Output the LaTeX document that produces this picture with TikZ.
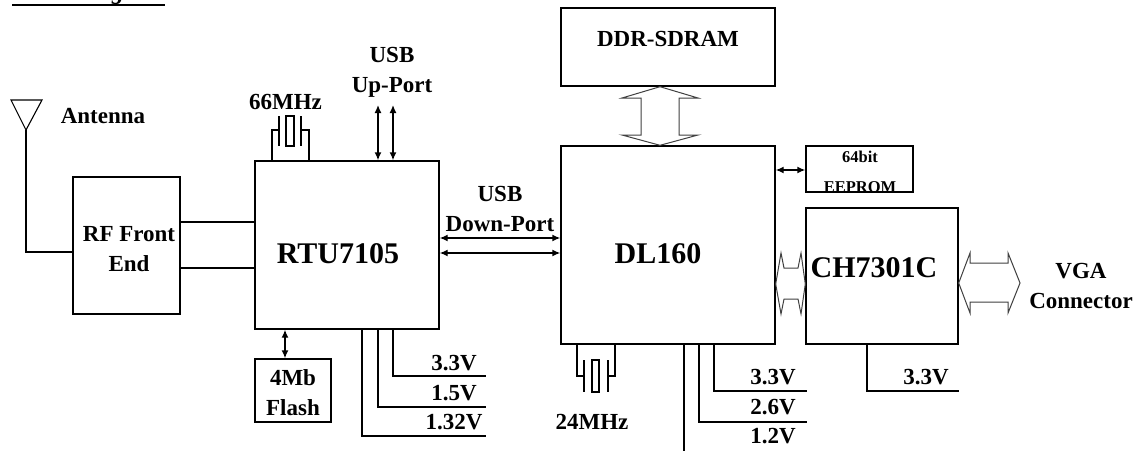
\documentclass[tikz,border=0pt]{standalone}
\usepackage{fontspec}
\setmainfont{Liberation Serif}
\usetikzlibrary{arrows.meta}
\begin{document}
\begin{tikzpicture}[x=1pt,y=-1pt,line width=1.4pt,
  box/.style={draw,inner sep=0pt},
  lbl/.style={font=\bfseries\fontsize{23}{30}\selectfont,inner sep=0pt,align=center},
  biglbl/.style={font=\bfseries\fontsize{30}{30}\selectfont,inner sep=0pt},
  smalllbl/.style={font=\bfseries\fontsize{16.5}{30}\selectfont,inner sep=0pt,align=center},
  dar/.style={{Latex[length=8pt,width=7pt]}-{Latex[length=8pt,width=7pt]},line width=1.4pt},
  hollow/.style={draw=black!75,line width=1pt,fill=white}]
\useasboundingbox (0,0) rectangle (1140,450);

% title (clipped at top, as in the reference)
\node[font=\bfseries\itshape\fontsize{24}{24}\selectfont,inner sep=0pt,anchor=base west] (title) at (12,-1) {Block Diagram};
\draw[line width=1.4pt] (title.base west |- 0,5) -- (title.base east |- 0,5);

% boxes
\node[box,minimum width=107pt,minimum height=137pt] (rf) at (126.5,245.5) {};
\node[box,minimum width=184pt,minimum height=168pt] (rtu) at (347,245) {};
\node[box,minimum width=76pt,minimum height=63pt] (flash) at (293,390.5) {};
\node[box,minimum width=214pt,minimum height=198pt] (dl) at (668,245) {};
\node[box,minimum width=214pt,minimum height=78pt] (ddr) at (668,47) {};
\node[box,minimum width=107pt,minimum height=46pt] (eeprom) at (859.5,169) {};
\node[box,minimum width=152pt,minimum height=136pt] (ch) at (882,276) {};

% box texts
\node[lbl] (rftxt) at (129,249) {RF Front\\End};
\node[biglbl] (rtutxt) at (338,254) {RTU7105};
\node[lbl] (flashtxt) at (293,392.5) {4Mb\\Flash};
\node[lbl] (ddrtxt) at (668,39) {DDR-SDRAM};
\node[biglbl] (dltxt) at (658,254) {DL160};
\node[smalllbl] (eetxt1) at (860,157) {64bit};
\node[smalllbl] (eetxt2) at (860,187) {EEPROM};
\node[biglbl] (chtxt) at (874,268) {CH7301C};

% free labels
\node[lbl] (anttxt) at (103,116) {Antenna};
\node[lbl] (osc1txt) at (285.5,102) {66MHz};
\node[lbl] (usbup) at (392,72) {USB\\Up-Port};
\node[lbl] (usbdown) at (500,208.5) {USB\\Down-Port};
\node[lbl] (vga) at (1081,285.5) {VGA\\Connector};
\node[lbl] (osc2txt) at (592,422) {24MHz};

% antenna
\coordinate (antapex) at (26,130);
\draw[line width=1.1pt] (11,100) -- (42,100) -- (antapex) -- cycle;
\draw (antapex) |- (rf.west |- 0,252);

% RF to RTU
\draw (rf.east |- 0,222) -- (rtu.west |- 0,222);
\draw (rf.east |- 0,268) -- (rtu.west |- 0,268);

% 66MHz crystal
\draw (rtu.north -| 272,0) |- (279,130);
\draw (279,116) -- (279,146);
\draw (286,116) rectangle (294,146);
\draw (301,116) -- (301,146);
\draw (rtu.north -| 309,0) |- (301,130);

% USB up-port
\coordinate (up1) at (378,105);
\coordinate (up2) at (393,105);
\draw[dar] (rtu.north -| up1) -- (up1);
\draw[dar] (rtu.north -| up2) -- (up2);

% flash
\draw[dar] (rtu.south -| 285,0) -- (flash.north -| 285,0);

% RTU power
\coordinate (pr1) at (486,376);
\coordinate (pr2) at (486,407);
\coordinate (pr3) at (486,436);
\draw (rtu.south -| 393,0) |- (pr1);
\draw (rtu.south -| 378,0) |- (pr2);
\draw (rtu.south -| 362,0) |- (pr3);
\node[lbl] (v1) at (454,363) {3.3V};
\node[lbl] (v2) at (454,393) {1.5V};
\node[lbl] (v3) at (454,422) {1.32V};

% USB down-port
\draw[dar] (rtu.east |- 0,238) -- (dl.west |- 0,238);
\draw[dar] (rtu.east |- 0,253) -- (dl.west |- 0,253);

% DDR hollow arrow
\draw[hollow] (ddr.south -| 660,0) -- (698,98) -- (679,98) -- (679,135) -- (698,135) -- (dl.north -| 660,0)
  -- (622,135) -- (641,135) -- (641,98) -- (622,98) -- cycle;

% EEPROM
\draw[dar] (dl.east |- 0,170) -- (eeprom.west |- 0,170);

% DL160 - CH7301C hollow arrow
\draw[hollow] (dl.east |- 0,284) -- (781,253) -- (784,268) -- (798,268) -- (801,253) -- (ch.west |- 0,284)
  -- (801,314) -- (798,299) -- (784,299) -- (781,314) -- cycle;

% VGA hollow arrow
\draw[hollow] (ch.east |- 0,283) -- (970,253) -- (970,263) -- (1008,263) -- (1008,253) -- (1020,283)
  -- (1008,313) -- (1008,302) -- (970,302) -- (970,313) -- cycle;

% 24MHz crystal
\draw (dl.south -| 577,0) |- (584,376);
\draw (584,360) -- (584,392);
\draw (592,360) rectangle (599,392);
\draw (608,360) -- (608,392);
\draw (dl.south -| 615,0) |- (608,376);

% DL160 power
\coordinate (pd1) at (807,391);
\coordinate (pd2) at (807,422);
\coordinate (pd3) at (684,452);
\draw (dl.south -| 714,0) |- (pd1);
\draw (dl.south -| 699,0) |- (pd2);
\draw (dl.south -| pd3) -- (pd3);
\node[lbl] (d1) at (773,377) {3.3V};
\node[lbl] (d2) at (773,407) {2.6V};
\node[lbl] (d3) at (773,436) {1.2V};

% CH7301C power
\draw (ch.south -| 867,0) |- (ch.east |- 0,391);
\node[lbl] (c1) at (926,377) {3.3V};
\end{tikzpicture}
\end{document}
